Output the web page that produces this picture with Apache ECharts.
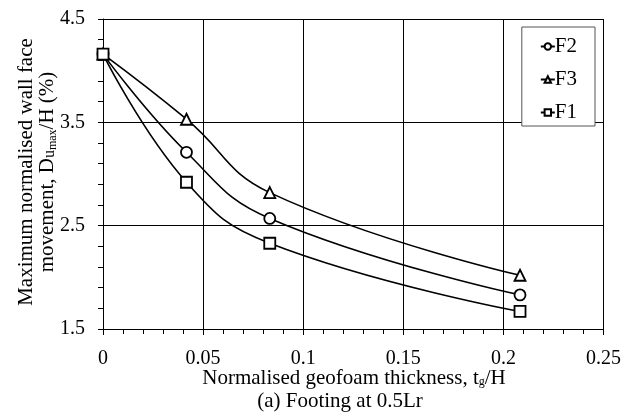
<!DOCTYPE html>
<html>
<head>
<meta charset="utf-8">
<script src="https://cdn.jsdelivr.net/npm/echarts@6/dist/echarts.min.js"></script>
<style>
	html, body { margin: 0; padding: 0; background: #fff; }
	#chart { width: 624px; height: 419px; }
</style>
</head>
<body>
<div id="chart"></div>
<script>
// normalised geofoam thickness tg/H
const thickness = [0, 0.0417, 0.0833, 0.2083]
// Dumax/H (%) per footing case
const f2 = [4.16, 3.21, 2.57, 1.83]
const f3 = [4.16, 3.53, 2.82, 2.02]
const f1 = [4.16, 2.92, 2.33, 1.67]
const seriesNames = ["F2", "F3", "F1"]
const seriesSymbols = ["circle", "triangle", "rect"]

const serif = "Liberation Serif, Times New Roman, serif"

function pairs(values) {
	return thickness.map((t, i) => [t, values[i]])
}

const chart = echarts.init(document.getElementById("chart"))

const option = {
	backgroundColor: "#fff",
	animation: false,
	textStyle: { fontFamily: serif, color: "#000" },
	grid: {
		left: 103,
		right: 19,
		top: 19,
		bottom: 90,
	},
	legend: {
		right: 29,
		top: 27,
		orient: "vertical",
		backgroundColor: "#fff",
		borderColor: "#555",
		borderWidth: 1,
		borderRadius: 0,
		padding: [9, 18, 3, 18],
		itemGap: 12,
		itemWidth: 14,
		itemHeight: 8,
		textStyle: { fontFamily: serif, fontSize: 21, color: "#000", padding: [0, 0, 0, -5] },
		data: seriesNames,
	},
	xAxis: {
		type: "value",
		min: 0,
		max: 0.25,
		interval: 0.05,
		axisLine: { lineStyle: { color: "#000", width: 1 } },
		axisTick: { length: 6, lineStyle: { color: "#000" } },
		minorTick: { show: true, splitNumber: 5, length: 5, lineStyle: { color: "#000" } },
		axisLabel: {
			fontFamily: serif,
			fontSize: 20,
			color: "#000",
			margin: 20,
			formatter: (v) => String(+v.toFixed(2)),
		},
		splitLine: { show: true, lineStyle: { color: "#000", width: 1 } },
	},
	yAxis: {
		type: "value",
		min: 1.5,
		max: 4.5,
		interval: 1,
		axisLine: { show: true, lineStyle: { color: "#000", width: 1 } },
		axisTick: { show: true, length: 5, lineStyle: { color: "#000" } },
		minorTick: { show: true, splitNumber: 5, length: 5, lineStyle: { color: "#000" } },
		axisLabel: {
			fontFamily: serif,
			fontSize: 20,
			color: "#000",
			margin: 18,
			formatter: (v) => v.toFixed(1),
		},
		splitLine: { show: true, lineStyle: { color: "#000", width: 1 } },
	},
	series: [f2, f3, f1].map((vals, i) => ({
		name: seriesNames[i],
		type: "line",
		smooth: 0.45,
		data: pairs(vals),
		symbol: seriesSymbols[i],
		symbolSize: 11,
		showAllSymbol: true,
		lineStyle: { color: "#000", width: 1.6 },
		itemStyle: { color: "#fff", borderColor: "#000", borderWidth: 1.8 },
		z: 3,
	})),
	graphic: [
		{
			type: "text",
			x: 37,
			y: 172,
			rotation: Math.PI / 2,
			style: {
				text: "Maximum normalised wall face\nmovement, D{u|u}{m|max}/H (%)",
				font: "21px " + serif,
				fill: "#000",
				align: "center",
				verticalAlign: "middle",
				lineHeight: 21,
				rich: {
					u: { fontSize: 16, fontFamily: serif, fill: "#000", padding: [5, 0, 0, 0] },
					m: { fontSize: 12, fontFamily: serif, fill: "#000", padding: [10, 0, 0, 0] },
				},
			},
		},
		{
			type: "text",
			x: 354,
			y: 378,
			style: {
				text: "Normalised geofoam thickness, t{g|g}/H",
				font: "21px " + serif,
				fill: "#000",
				align: "center",
				verticalAlign: "middle",
				rich: {
					g: { fontSize: 12, fontFamily: serif, fill: "#000", padding: [8, 0, 0, 0] },
				},
			},
		},
		{
			type: "text",
			x: 340,
			y: 401,
			style: {
				text: "(a) Footing at 0.5Lr",
				font: "21px " + serif,
				fill: "#000",
				align: "center",
				verticalAlign: "middle",
			},
		},
	],
}

chart.setOption(option)
</script>
</body>
</html>
